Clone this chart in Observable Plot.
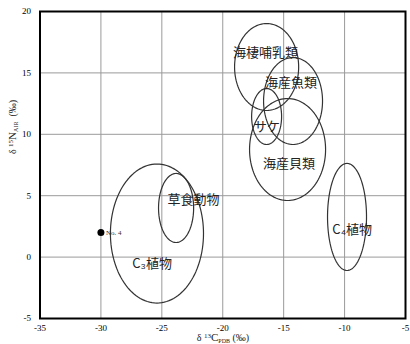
<!DOCTYPE html>
<html><head><meta charset="utf-8">
<script src="https://cdn.jsdelivr.net/npm/d3@7"></script>
<script src="https://cdn.jsdelivr.net/npm/@observablehq/plot@0.6"></script>
<style>body{margin:0;background:#fff}</style>
</head><body><div id="chart"></div>
<script>
// Ellipse groups (isotope ranges)
const groups  = ["海棲哺乳類", "海産魚類", "サケ", "海産貝類", "草食動物", "C₃植物", "C₄植物"];
const centerX = [-16.4, -14.23, -16.4, -14.68, -23.83, -25.4, -9.8];
const centerY = [15.48, 12.71, 11.45, 8.76, 4.0, 1.92, 3.27];
const radiusX = [2.63, 2.42, 1.23, 3.12, 1.44, 3.82, 1.6];
const radiusY = [3.54, 3.54, 2.28, 4.15, 2.81, 5.66, 4.36];
const labelX  = [-16.49, -14.39, -16.36, -14.56, -22.4, -25.8, -9.38];
const labelY  = [16.66, 14.22, 10.64, 7.62, 4.69, -0.52, 2.25];
// Sample point
const sampleName = ["No. 4"];
const sampleX = [-30];
const sampleY = [2.0];
// Ticks
const xTicks = [-35, -30, -25, -20, -15, -10, -5];
const yTicks = [-5, 0, 5, 10, 15, 20];

const ellipsePts = [];
groups.forEach((g, i) => {
  for (let a = 0; a <= 360; a += 3) {
    const t = a * Math.PI / 180;
    ellipsePts.push({group: g, x: centerX[i] + radiusX[i] * Math.cos(t), y: centerY[i] + radiusY[i] * Math.sin(t)});
  }
});
const labels = groups.map((g, i) => ({name: g, x: labelX[i], y: labelY[i]}));
const samples = sampleName.map((n, i) => ({name: n, x: sampleX[i], y: sampleY[i]}));

const chart = Plot.plot({
  width: 410, height: 344,
  marginLeft: 39.5, marginRight: 5, marginTop: 11, marginBottom: 26,
  style: {fontFamily: "Liberation Serif, DejaVu Serif, serif", fontSize: "9px", background: "#fff"},
  x: {domain: [-35, -5], ticks: xTicks, tickSize: 0, tickPadding: 6, tickFormat: d => String(d), label: null},
  y: {domain: [-5, 20], ticks: yTicks, tickSize: 0, tickPadding: 9, tickFormat: d => String(d), label: null},
  marks: [
    Plot.ruleX(xTicks, {stroke: "#9a9a9a", strokeWidth: 1}),
    Plot.ruleY(yTicks, {stroke: "#9a9a9a", strokeWidth: 1}),
    Plot.line(ellipsePts, {x: "x", y: "y", z: "group", stroke: "#333", strokeWidth: 1.2}),
    Plot.text(labels, {x: "x", y: "y", text: "name", fontSize: 13, fill: "#222",
      fontFamily: "Noto Sans CJK JP, sans-serif"}),
    Plot.dot(samples, {x: "x", y: "y", r: 3.5, fill: "#000"}),
    Plot.text(samples, {x: "x", y: "y", text: "name", dx: 5, textAnchor: "start", fontSize: 7, fill: "#333"}),
    Plot.frame({stroke: "#000", strokeWidth: 2})
  ]
});
document.getElementById("chart").appendChild(chart);

// Axis titles with sub/superscripts
const svg = d3.select(chart);
const xt = svg.append("text").attr("x", 223).attr("y", 341).attr("text-anchor", "middle")
  .attr("font-family", "Liberation Serif, serif").attr("font-size", 10).attr("fill", "#222");
xt.append("tspan").text("δ ");
xt.append("tspan").attr("font-size", 7).attr("dy", -3).text("13");
xt.append("tspan").attr("dy", 3).attr("font-size", 11).text("C");
xt.append("tspan").attr("font-size", 6).attr("dy", 2).text("PDB");
xt.append("tspan").attr("dy", -2).text(" (‰)");

const yt = svg.append("text").attr("transform", "translate(16,127) rotate(-90)").attr("text-anchor", "middle")
  .attr("font-family", "Liberation Serif, serif").attr("font-size", 10).attr("fill", "#222");
yt.append("tspan").text("δ ");
yt.append("tspan").attr("font-size", 7).attr("dy", -3).text("15");
yt.append("tspan").attr("dy", 3).attr("font-size", 11).text("N");
yt.append("tspan").attr("font-size", 6).attr("dy", 2).text("AIR");
yt.append("tspan").attr("dy", -2).text("  (‰)");
</script>
</body></html>
